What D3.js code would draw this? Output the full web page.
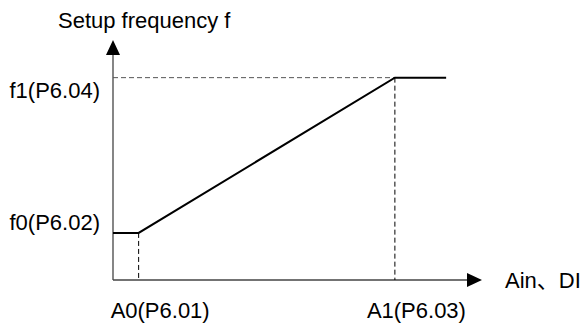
<!DOCTYPE html>
<html>
<head>
<meta charset="utf-8">
<script src="https://cdn.jsdelivr.net/npm/d3@7"></script>
<style>
  body { margin: 0; background: #fff; }
  text { font-family: Arial, "Liberation Sans", "Noto Sans CJK SC", sans-serif; font-size: 22px; fill: #000; }
</style>
</head>
<body>
<div id="chart-area"></div>
<script>
// input (A) and frequency (f) points of the setting curve
const curveX = [0, 1, 11, 13];
const curveF = [1, 1, 4.3, 4.3];
// marked points on the axes
const xMarks = [1, 11];
const xLabels = ["A0(P6.01)", "A1(P6.03)"];
const yMarks = [1, 4.3];
const yLabels = ["f0(P6.02)", "f1(P6.04)"];
const xTitle = "Ain、DI";
const yTitle = "Setup frequency f";

const W = 587, H = 327;
const svg = d3.select("#chart-area")
  .append("svg")
  .attr("width", W)
  .attr("height", H);

// scales
const x = d3.scaleLinear().domain([0, 14.4]).range([113, 482]);
const y = d3.scaleLinear().domain([0, 5.1]).range([280, 40]);

const arrow = 15, half = 7;

// axes with arrow heads
svg.append("line")
  .attr("x1", x(0)).attr("y1", y(0))
  .attr("x2", x(0)).attr("y2", y(5.1) + arrow)
  .attr("stroke", "#444").attr("stroke-width", 1.3);
svg.append("path")
  .attr("d", `M${x(0)},${y(5.1)} L${x(0) - half},${y(5.1) + arrow} L${x(0) + half},${y(5.1) + arrow} Z`)
  .attr("fill", "#000");

svg.append("line")
  .attr("x1", x(0)).attr("y1", y(0))
  .attr("x2", x(14.4) - arrow).attr("y2", y(0))
  .attr("stroke", "#444").attr("stroke-width", 1.3);
svg.append("path")
  .attr("d", `M${x(14.4)},${y(0)} L${x(14.4) - arrow},${y(0) - half} L${x(14.4) - arrow},${y(0) + half} Z`)
  .attr("fill", "#000");

// dashed guides
svg.append("line")
  .attr("x1", x(0)).attr("y1", y(yMarks[1]))
  .attr("x2", x(xMarks[1])).attr("y2", y(yMarks[1]))
  .attr("stroke", "#555").attr("stroke-width", 1)
  .attr("stroke-dasharray", "5,3");

svg.selectAll(".vguide")
  .data(xMarks.map((v, i) => ({ v: v, f: curveF[i + 1] })))
  .enter()
  .append("line")
  .attr("class", "vguide")
  .attr("x1", d => x(d.v)).attr("y1", d => y(d.f))
  .attr("x2", d => x(d.v)).attr("y2", y(0))
  .attr("stroke", "#000").attr("stroke-width", 1)
  .attr("stroke-dasharray", "5,3");

// curve
const line = d3.line()
  .x((d, i) => x(curveX[i]))
  .y(d => y(d));
svg.append("path")
  .datum(curveF)
  .attr("d", line)
  .attr("fill", "none")
  .attr("stroke", "#000")
  .attr("stroke-width", 2);

// labels
svg.append("text")
  .attr("x", 58).attr("y", 28)
  .text(yTitle);

svg.append("text")
  .attr("x", 505).attr("y", y(0) + 8)
  .text(xTitle);

svg.selectAll(".ylab")
  .data(yLabels)
  .enter()
  .append("text")
  .attr("class", "ylab")
  .attr("x", 100)
  .attr("y", (d, i) => i === 0 ? y(yMarks[i]) - 3 : y(yMarks[i]) + 20)
  .attr("text-anchor", "end")
  .text(d => d);

svg.selectAll(".xlab")
  .data(xLabels)
  .enter()
  .append("text")
  .attr("class", "xlab")
  .attr("x", (d, i) => x(xMarks[i]) - 28)
  .attr("y", 318)
  .text(d => d);
</script>
</body>
</html>
